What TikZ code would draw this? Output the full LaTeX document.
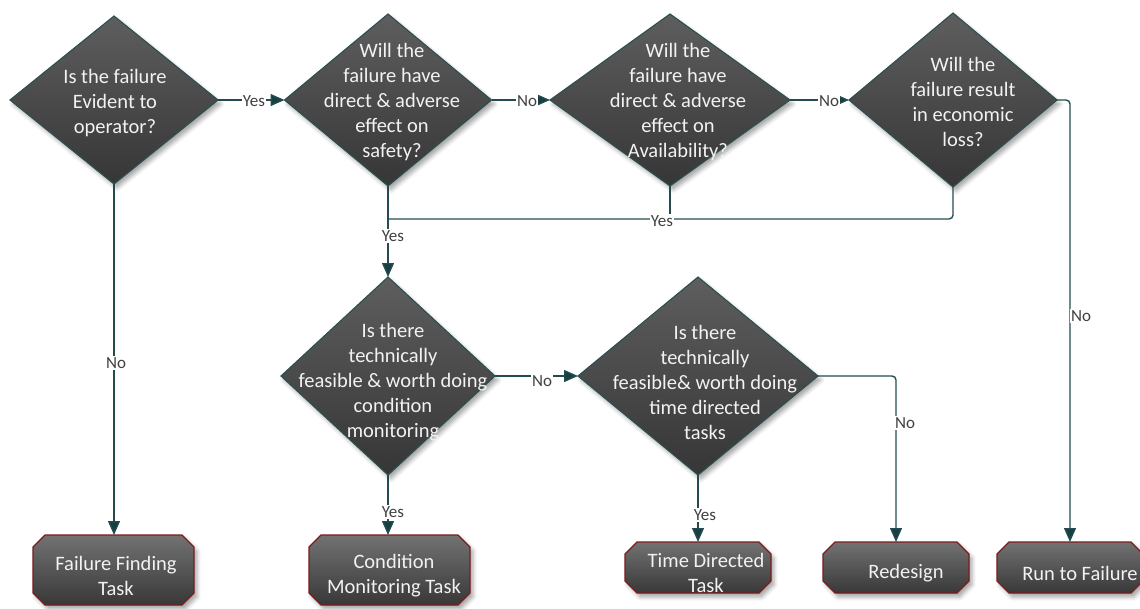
\documentclass[tikz,border=0pt]{standalone}
\usepackage{fontspec}
\setmainfont{Carlito}
\usetikzlibrary{shapes.geometric,arrows.meta,shadows.blur}
\definecolor{linec}{HTML}{244C50}
\definecolor{tipc}{HTML}{173F42}
\definecolor{diaedge}{HTML}{2B4F50}
\definecolor{boxedge}{HTML}{7A1C1C}
\definecolor{lblc}{HTML}{404040}
\definecolor{txtc}{HTML}{F2F2F2}
\definecolor{diatop}{HTML}{5E5E5E}
\definecolor{diabot}{HTML}{363636}
\definecolor{boxtop}{HTML}{727272}
\definecolor{boxbot}{HTML}{383838}

% octagonal (chamfered) outline around a rectangular frame node
\newcommand\chambox[1]{%
  \path[boxshape] ([xshift=12pt]#1.north west) -- ([xshift=-12pt]#1.north east)
    -- ([yshift=-12pt]#1.north east) -- ([yshift=12pt]#1.south east)
    -- ([xshift=-12pt]#1.south east) -- ([xshift=12pt]#1.south west)
    -- ([yshift=12pt]#1.south west) -- ([yshift=-12pt]#1.north west) -- cycle;}

\begin{document}
\begin{tikzpicture}[x=1pt,y=-1pt,
  softshadow/.style={blur shadow={shadow xshift=3pt,shadow yshift=-4pt,shadow blur radius=4pt,shadow opacity=35}},
  dia/.style={diamond,draw=diaedge,line width=1.1pt,top color=diatop,bottom color=diabot,
    inner sep=0pt,outer sep=0pt,softshadow},
  boxframe/.style={rectangle,inner sep=0pt,outer sep=0pt},
  boxshape/.style={draw=boxedge,line width=1.1pt,top color=boxtop,bottom color=boxbot,softshadow},
  txt/.style={text=txtc,align=center,font=\fontsize{20.5}{25}\selectfont,inner sep=0pt},
  lbl/.style={text=lblc,fill=white,font=\fontsize{17}{18}\selectfont,inner sep=1pt},
  wire/.style={draw=linec,line width=1.4pt},
  conn/.style={wire,-{Triangle[length=14pt,width=12pt,fill=tipc]}}]
\useasboundingbox (0,0) rectangle (1140,608);

% decision diamonds
\node[dia,minimum width=208pt,minimum height=168pt] (d1) at (114,100) {};
\node[dia,minimum width=207pt,minimum height=172pt] (d2) at (388,100) {};
\node[dia,minimum width=240pt,minimum height=172pt] (d3) at (670,100) {};
\node[dia,minimum width=208pt,minimum height=174pt] (d4) at (953,100) {};
\node[dia,minimum width=214pt,minimum height=198pt] (d5) at (388,376) {};
\node[dia,minimum width=240pt,minimum height=198pt] (d6) at (698,376) {};

\node[txt] (t1) at (115,103) {Is the failure\\Evident to\\operator?};
\node[txt] (t2) at (392,102) {Will the\\failure have\\direct \& adverse\\effect on\\safety?};
\node[txt] (t3) at (678,102) {Will the\\failure have\\direct \& adverse\\effect on\\Availability?};
\node[txt] (t4) at (963,102) {Will the\\failure result\\in economic\\loss?};
\node[txt] (t5) at (393,382) {Is there\\technically\\feasible \& worth doing\\condition\\monitoring};
\node[txt] (t6) at (705,382) {Is there\\technically\\feasible\& worth doing\\time directed\\tasks};

% outcome boxes
\node[boxframe,minimum width=161pt,minimum height=70pt] (fft) at (113.5,570) {};
\node[boxframe,minimum width=161pt,minimum height=70pt] (cmt) at (389.5,570) {};
\node[boxframe,minimum width=146pt,minimum height=51pt] (tdt) at (698,567.5) {};
\node[boxframe,minimum width=146pt,minimum height=51pt] (rds) at (896,567.5) {};
\node[boxframe,minimum width=146pt,minimum height=51pt] (rtf) at (1070,567.5) {};
\chambox{fft}
\chambox{cmt}
\chambox{tdt}
\chambox{rds}
\chambox{rtf}

\node[txt] (tf) at (116,576) {Failure Finding\\Task};
\node[txt] (tc) at (394,576) {Condition\\Monitoring Task};
\node[txt] (tt) at (706,573) {Time Directed\\Task};
\node[txt] (tr) at (906,573) {Redesign};
\node[txt] (tu) at (1080,573) {Run to Failure};

% connectors
\coordinate (jn) at (388,219);
\draw[conn] (d1.east) -- (d2.west);
\draw[conn] (d2.east) -- (d3.west);
\draw[conn] (d3.east) -- (d4.west);
\draw[conn] (d1.south) -- (d1.south |- fft.north);
\draw[conn,rounded corners=4pt] (d4.east) -| (rtf.north);
\draw[wire,rounded corners=4pt] (d4.south) |- (jn);
\draw[wire] (d3.south) -- (d3.south |- jn);
\draw[conn] (d2.south) -- (d5.north);
\draw[conn] (d5.east) -- (d6.west);
\draw[conn] (d5.south) -- (d5.south |- cmt.north);
\draw[conn] (d6.south) -- (d6.south |- tdt.north);
\draw[conn,rounded corners=4pt] (d6.east) -| (rds.north);

% connector labels
\node[lbl] (ly1) at (254,101) {Yes};
\node[lbl] (ln2) at (527,101) {No};
\node[lbl] (ln3) at (829,101) {No};
\node[lbl] (ln1) at (116,363) {No};
\node[lbl] (ly2) at (393,236) {Yes};
\node[lbl] (ly3) at (662,221) {Yes};
\node[lbl] (ln4) at (1081,316) {No};
\node[lbl] (ln5) at (542,381) {No};
\node[lbl] (ly4) at (393,512) {Yes};
\node[lbl] (ly5) at (705,515) {Yes};
\node[lbl] (ln6) at (905,423) {No};
\end{tikzpicture}
\end{document}
